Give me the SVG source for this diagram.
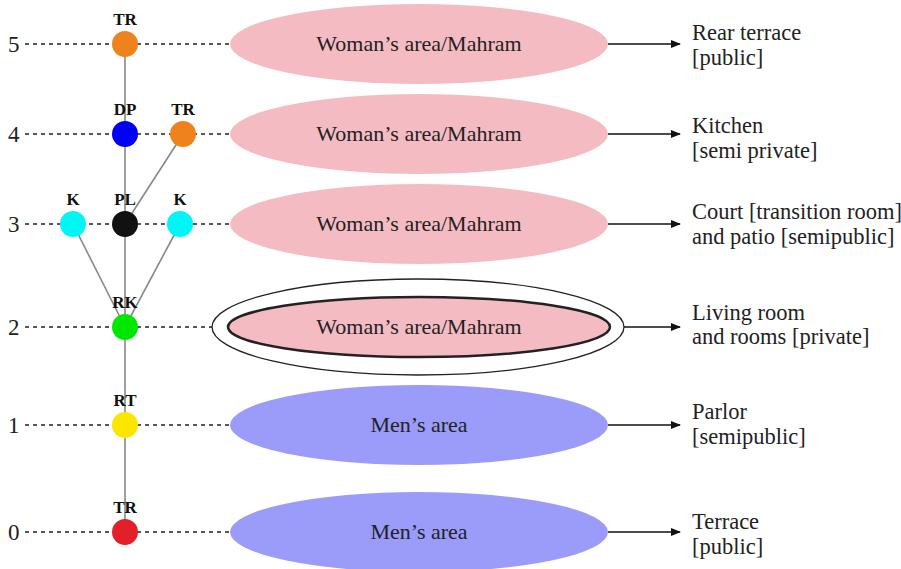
<svg xmlns="http://www.w3.org/2000/svg" width="901" height="569" viewBox="0 0 901 569">
<defs>
<marker id="ah" markerWidth="10" markerHeight="8" refX="9" refY="4" orient="auto" markerUnits="userSpaceOnUse">
<path d="M0,0 L10,4 L0,8 Z" fill="#111"/>
</marker>
<style>
.lvl{font-family:"Liberation Serif",serif;font-size:23px;fill:#222}
.dash{stroke:#222;stroke-width:1.5;stroke-dasharray:4,4;fill:none}
.edge{stroke:#888;stroke-width:1.6;fill:none}
.arr{stroke:#111;stroke-width:1.5;fill:none;marker-end:url(#ah)}
.nl{font-family:"Liberation Serif",serif;font-size:17px;font-weight:bold;fill:#111;text-anchor:middle}
.pink{fill:#f4bcc2}
.blue{fill:#9b9bfa}
.et{font-family:"Liberation Serif",serif;font-size:22px;fill:#222;text-anchor:middle}
.rt{font-family:"Liberation Serif",serif;font-size:22.5px;fill:#222}
</style>
</defs>
<rect width="901" height="569" fill="#fff"/>
<g id="levels">
<text class="lvl" x="8" y="52">5</text>
<text class="lvl" x="8" y="142">4</text>
<text class="lvl" x="8" y="232">3</text>
<text class="lvl" x="8" y="335">2</text>
<text class="lvl" x="8" y="433">1</text>
<text class="lvl" x="8" y="540">0</text>
</g>
<g id="connectors">
<line class="dash" x1="25" y1="44" x2="232" y2="44"/>
<line class="dash" x1="25" y1="134" x2="232" y2="134"/>
<line class="dash" x1="25" y1="224" x2="232" y2="224"/>
<line class="dash" x1="25" y1="327" x2="214" y2="327"/>
<line class="dash" x1="25" y1="425" x2="232" y2="425"/>
<line class="dash" x1="25" y1="532" x2="232" y2="532"/>
<line class="edge" x1="125" y1="44" x2="125" y2="532"/>
<line class="edge" x1="183" y1="134" x2="125" y2="224"/>
<line class="edge" x1="73" y1="224" x2="125" y2="327"/>
<line class="edge" x1="180" y1="224" x2="125" y2="327"/>
<line class="arr" x1="608" y1="44" x2="680" y2="44"/>
<line class="arr" x1="608" y1="134" x2="680" y2="134"/>
<line class="arr" x1="608" y1="224" x2="680" y2="224"/>
<line class="arr" x1="608" y1="327" x2="680" y2="327"/>
<line class="arr" x1="608" y1="425" x2="680" y2="425"/>
<line class="arr" x1="608" y1="532" x2="680" y2="532"/>
</g>
<g id="n5tr"><circle cx="125" cy="44" r="13" fill="#f0821e"/><text class="nl" x="125" y="25">TR</text></g>
<g id="n4dp"><circle cx="125" cy="134" r="13" fill="#0000f5"/><text class="nl" x="125" y="115">DP</text></g>
<g id="n4tr"><circle cx="183" cy="134" r="13" fill="#f0821e"/><text class="nl" x="183" y="115">TR</text></g>
<g id="n3k1"><circle cx="73" cy="224" r="13" fill="#00f5f5"/><text class="nl" x="73" y="205">K</text></g>
<g id="n3pl"><circle cx="125" cy="224" r="13" fill="#111"/><text class="nl" x="125" y="205">PL</text></g>
<g id="n3k2"><circle cx="180" cy="224" r="13" fill="#00f5f5"/><text class="nl" x="180" y="205">K</text></g>
<g id="n2rk"><circle cx="125" cy="327" r="13" fill="#00e800"/><text class="nl" x="125" y="308">RK</text></g>
<g id="n1rt"><circle cx="125" cy="425" r="13" fill="#fbe600"/><text class="nl" x="125" y="406">RT</text></g>
<g id="n0tr"><circle cx="125" cy="532" r="13" fill="#e3202a"/><text class="nl" x="125" y="513">TR</text></g>
<g id="e5"><ellipse class="pink" cx="419" cy="44" rx="189" ry="40"/><text class="et" x="419" y="51">Woman’s area/Mahram</text></g>
<g id="e4"><ellipse class="pink" cx="419" cy="134" rx="189" ry="40"/><text class="et" x="419" y="141">Woman’s area/Mahram</text></g>
<g id="e3"><ellipse class="pink" cx="419" cy="224" rx="189" ry="40"/><text class="et" x="419" y="231">Woman’s area/Mahram</text></g>
<g id="e2">
<ellipse cx="418" cy="327" rx="206" ry="48" fill="#fff" stroke="#222" stroke-width="1.3"/>
<ellipse class="pink" cx="419" cy="327" rx="191" ry="30" stroke="#222" stroke-width="2.5"/>
<text class="et" x="419" y="334">Woman’s area/Mahram</text></g>
<g id="e1"><ellipse class="blue" cx="419" cy="425" rx="189" ry="40"/><text class="et" x="419" y="432">Men’s area</text></g>
<g id="e0"><ellipse class="blue" cx="419" cy="532" rx="189" ry="40"/><text class="et" x="419" y="539">Men’s area</text></g>
<g id="r5"><text class="rt" x="692" y="40">Rear terrace</text><text class="rt" x="692" y="65">[public]</text></g>
<g id="r4"><text class="rt" x="692" y="133">Kitchen</text><text class="rt" x="692" y="158">[semi private]</text></g>
<g id="r3"><text class="rt" x="692" y="219">Court [transition room]</text><text class="rt" x="692" y="244">and patio [semipublic]</text></g>
<g id="r2"><text class="rt" x="692" y="320">Living room</text><text class="rt" x="692" y="344">and rooms [private]</text></g>
<g id="r1"><text class="rt" x="692" y="419">Parlor</text><text class="rt" x="692" y="444">[semipublic]</text></g>
<g id="r0"><text class="rt" x="692" y="529">Terrace</text><text class="rt" x="692" y="554">[public]</text></g>
</svg>
